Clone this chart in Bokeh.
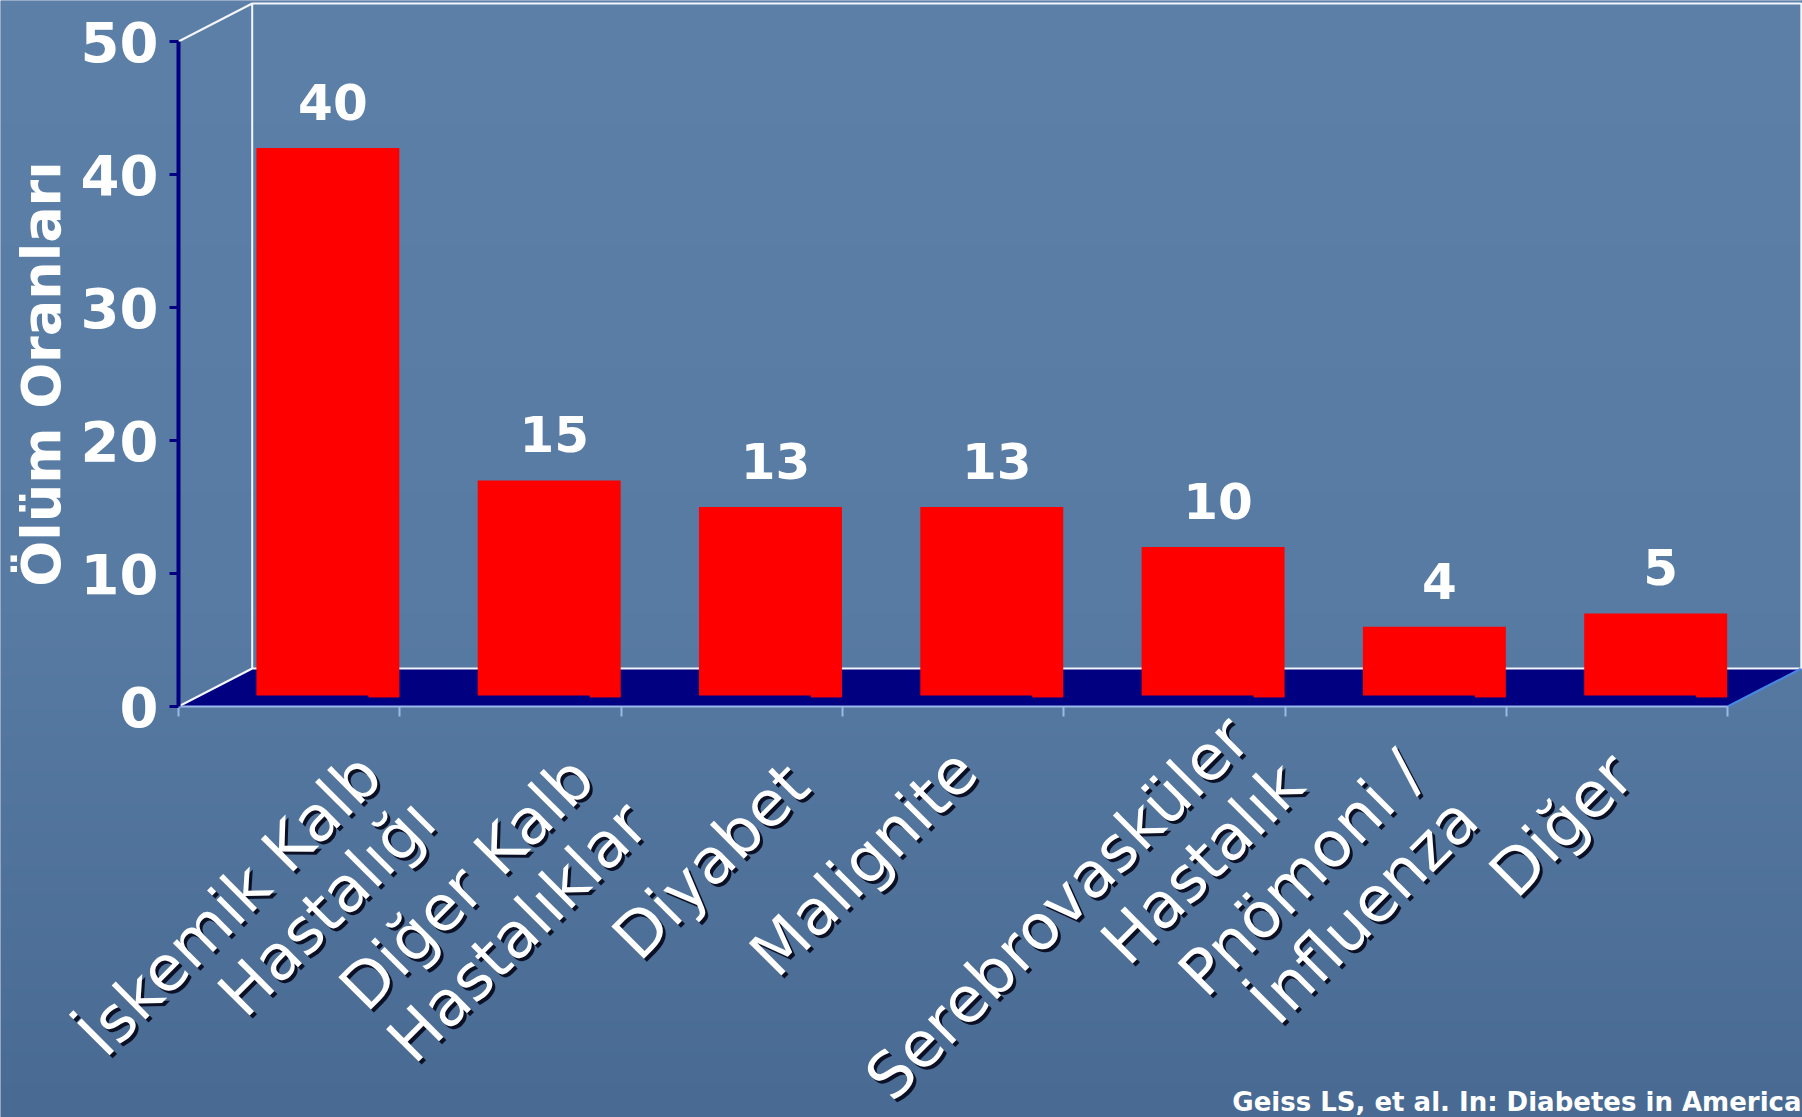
import numpy as np
from bokeh.plotting import figure
from bokeh.models import Range1d, LinearAxis, FixedTicker, ColumnDataSource, Label
from bokeh.core.properties import value
from bokeh.embed import file_html
from bokeh.resources import INLINE

# ---------------- data ----------------
cat_line1 = ["İskemik Kalb", "Diğer Kalb", "Diyabet", "Malignite",
             "Serebrovasküler", "Pnömoni /", "Diğer"]
cat_line2 = ["Hastalığı", "Hastalıklar", "", "", "Hastalık", "İnfluenza", ""]
rates = [40, 15, 13, 13, 10, 4, 5]
y_ticks = [0, 10, 20, 30, 40, 50]
y_title = "Ölüm Oranları"
source_note = "Geiss LS, et al. In: Diabetes in America"

# ---------------- layout / style ----------------
W, H = 1802, 1117
X0_PX, CAT_PX = 178.0, 221.3      # pixel of x=0, pixels per category
Y0_PX, UNIT_PX = 706.0, 13.3      # pixel of y=0, pixels per unit
DEPTH_X, DEPTH_Y = 0.333, 38 / 13.3   # 3-D depth of the floor/back wall
BAR_SHIFT = 2.0                   # bars drawn in the middle of the depth
BAR_L, BAR_R, BAR_B = 0.352, 0.998, 0.83
# per-label nudges (px) of the end of the first text line
label_dx = [81, 72, 66, 13, 64, 17, 5]
label_dy = [58, 61, 68, 54, 21, 56, 58]
GAP_X, GAP_Y = 54, 46             # px shift of the 2nd text line
FONT = "DejaVu Sans"

n = len(rates)
ymax = y_ticks[-1]

def px2x(px):
    return (px - X0_PX) / CAT_PX

def px2y(py):
    return (Y0_PX - py) / UNIT_PX

x_range = Range1d(px2x(0), px2x(W))
y_range = Range1d(px2y(H), px2y(0))

p = figure(width=W, height=H, x_range=x_range, y_range=y_range,
           output_backend="svg", toolbar_location=None,
           x_axis_location=None, y_axis_location=None,
           min_border=0, outline_line_color=None,
           background_fill_color="#577aa3", border_fill_color="#577aa3")
p.xgrid.visible = False
p.ygrid.visible = False

# background gradient
N = 200
img = np.empty((N, 1), dtype=np.uint32)
view = img.view(dtype=np.uint8).reshape((N, 1, 4))
top_c = np.array([93, 128, 168]); mid_c = np.array([88, 123, 163]); bot_c = np.array([72, 106, 147])
for i in range(N):
    t = i / (N - 1)
    if t < 0.45:
        c = bot_c + (mid_c - bot_c) * (t / 0.45)
    else:
        c = mid_c + (top_c - mid_c) * ((t - 0.45) / 0.55)
    view[i, 0, :3] = c.astype(np.uint8)
    view[i, 0, 3] = 255
p.image_rgba(image=[img], x=x_range.start, y=y_range.start,
             dw=x_range.end - x_range.start, dh=y_range.end - y_range.start)

# floor
p.patch([0, DEPTH_X, n + DEPTH_X, n], [0, DEPTH_Y, DEPTH_Y, 0],
        fill_color="#000080", line_color=None)
p.line([0, DEPTH_X, n + DEPTH_X], [0, DEPTH_Y, DEPTH_Y], line_color="#f4f6fb", line_width=2)
p.line([n, n + DEPTH_X], [0, DEPTH_Y], line_color="#4a86e8", line_width=2)
# back wall
p.line([0, DEPTH_X, DEPTH_X], [ymax, ymax + DEPTH_Y, DEPTH_Y], line_color="#f4f6fb", line_width=2)
p.line([DEPTH_X, n + DEPTH_X, n + DEPTH_X], [ymax + DEPTH_Y, ymax + DEPTH_Y, DEPTH_Y],
       line_color="#f4f6fb", line_width=2)

# bars
idx = np.arange(n)
bars = ColumnDataSource(dict(
    left=idx + BAR_L, right=idx + BAR_R,
    top=np.array(rates, dtype=float) + BAR_SHIFT,
    cx=idx + (BAR_L + BAR_R) / 2,
    label=[str(v) for v in rates],
))
p.quad(left="left", right="right", bottom=BAR_B, top="top", source=bars,
       fill_color="#ff0000", line_color=None)
p.quad(left=idx + BAR_R - 0.14, right=idx + BAR_R, bottom=0.68, top=1.0,
       fill_color="#ff0000", line_color=None)

p.text(x="cx", y="top", text="label", source=bars, x_offset=5, y_offset=-46,
       text_align="center", text_baseline="alphabetic", text_color="white",
       text_font=value(FONT), text_font_style="bold", text_font_size="50px")

# axes
yaxis = LinearAxis(fixed_location=0, bounds=(0, ymax), ticker=FixedTicker(ticks=y_ticks),
                   axis_line_color="#000080", axis_line_width=4,
                   major_tick_line_color="#000080", major_tick_line_width=3,
                   major_tick_out=9, major_tick_in=0, minor_tick_out=0, minor_tick_in=0,
                   major_label_standoff=11,
                   major_label_text_color="white", major_label_text_font=FONT,
                   major_label_text_font_style="bold", major_label_text_font_size="56px",
                   axis_label=y_title, axis_label_standoff=5,
                   axis_label_text_color="white", axis_label_text_font=FONT,
                   axis_label_text_font_style="bold", axis_label_text_font_size="54px")
p.add_layout(yaxis, "left")

xaxis = LinearAxis(fixed_location=0, bounds=(0, n), ticker=FixedTicker(ticks=list(range(n + 1))),
                   axis_line_color="#9ab8ea", axis_line_width=2,
                   major_tick_line_color="#9ab8ea", major_tick_line_width=2,
                   major_tick_out=10, major_tick_in=0, minor_tick_out=0, minor_tick_in=0,
                   major_label_text_font_size="0px", major_label_text_alpha=0)
p.add_layout(xaxis, "below")

# category labels (rotated, right-aligned lines, with shadow)
dx1 = np.array(label_dx, dtype=float)
dy1 = np.array(label_dy, dtype=float)
src1 = ColumnDataSource(dict(x=idx + 0.5, y=np.zeros(n), t=cat_line1, dx=dx1, dy=dy1,
                             sdx=dx1 + 3, sdy=dy1 + 3))
k2 = [i for i in range(n) if cat_line2[i]]
src2 = ColumnDataSource(dict(x=[i + 0.5 for i in k2], y=[0.0] * len(k2),
                             t=[cat_line2[i] for i in k2],
                             dx=[dx1[i] + GAP_X for i in k2], dy=[dy1[i] + GAP_Y for i in k2],
                             sdx=[dx1[i] + GAP_X + 3 for i in k2], sdy=[dy1[i] + GAP_Y + 3 for i in k2]))
common = dict(angle=np.pi / 4, text_align="right", text_baseline="alphabetic",
              text_font=value(FONT), text_font_size="63px")
for src in (src1, src2):
    p.text(x="x", y="y", text="t", x_offset="sdx", y_offset="sdy", source=src,
           text_color="#0b1024", **common)
for src in (src1, src2):
    p.text(x="x", y="y", text="t", x_offset="dx", y_offset="dy", source=src,
           text_color="white", **common)

# source note
p.add_layout(Label(x=px2x(1801), y=px2y(1116), text=source_note, text_align="right",
                   text_baseline="bottom", text_color="white", text_font=FONT,
                   text_font_style="bold", text_font_size="26px"))

open("out.html", "w").write(file_html(p, INLINE))
